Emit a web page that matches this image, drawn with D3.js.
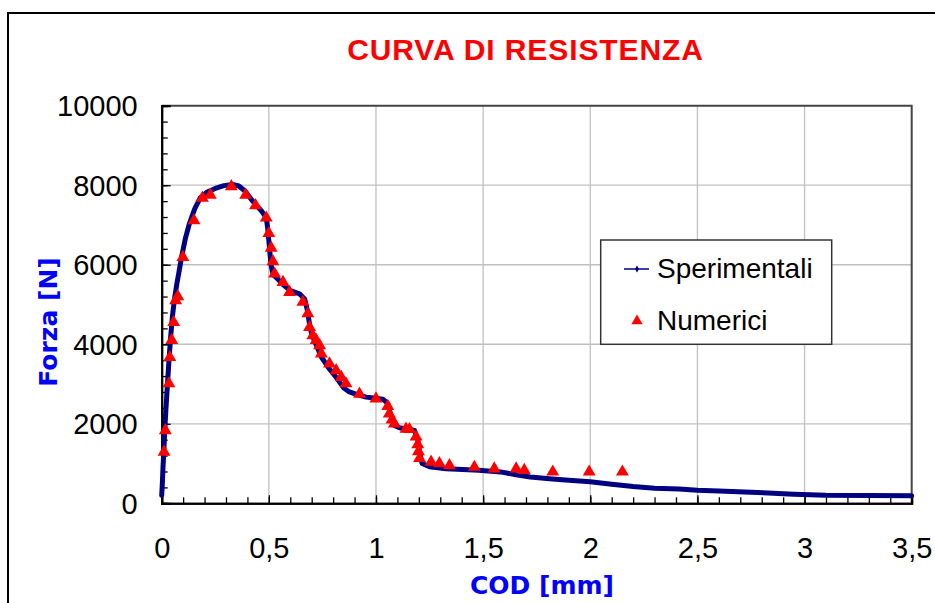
<!DOCTYPE html>
<html>
<head>
<meta charset="utf-8">
<script src="https://cdn.jsdelivr.net/npm/d3@7"></script>
<style>
  html, body { margin: 0; padding: 0; background: #ffffff; }
  svg { display: block; }
</style>
</head>
<body>
<svg id="chart" width="935" height="603"></svg>
<script>
// ---- Data ----
const title = "CURVA DI RESISTENZA";
const xTitle = "COD [mm]";
const yTitle = "Forza [N]";
const seriesNames = ["Sperimentali", "Numerici"];

// Experimental curve (COD mm, Force N)
const expCod = [0.0, 0.003, 0.006, 0.01, 0.014, 0.02, 0.027, 0.034, 0.042, 0.05, 0.06, 0.07, 0.08, 0.093, 0.11, 0.13, 0.155, 0.18, 0.21, 0.25, 0.29, 0.33, 0.36, 0.39, 0.41, 0.44, 0.465, 0.488, 0.495, 0.5, 0.505, 0.51, 0.52, 0.54, 0.566, 0.6, 0.643, 0.667, 0.68, 0.69, 0.70, 0.72, 0.745, 0.78, 0.814, 0.85, 0.876, 0.92, 0.954, 1.0, 1.032, 1.055, 1.07, 1.086, 1.11, 1.14, 1.18, 1.195, 1.205, 1.215, 1.25, 1.327, 1.48, 1.58, 1.654, 1.72, 1.81, 1.9, 2.0, 2.1, 2.2, 2.3, 2.415, 2.5, 2.6, 2.69, 2.83, 2.95, 3.1, 3.3, 3.5];
const expForce = [200, 500, 900, 1300, 1800, 2400, 3000, 3600, 4200, 4700, 5150, 5500, 5800, 6200, 6650, 7050, 7420, 7680, 7820, 7920, 7990, 8020, 7980, 7850, 7700, 7500, 7360, 7190, 6900, 6600, 6300, 6000, 5750, 5650, 5500, 5350, 5270, 5140, 4850, 4500, 4250, 4000, 3680, 3400, 3170, 2900, 2800, 2720, 2670, 2640, 2620, 2510, 2200, 1960, 1900, 1870, 1830, 1600, 1250, 1000, 920, 870, 830, 790, 720, 660, 620, 580, 540, 480, 420, 380, 360, 330, 310, 290, 260, 230, 200, 195, 190];

// Numerical results (COD mm, Force N)
const numCod = [0.011, 0.017, 0.034, 0.038, 0.047, 0.056, 0.065, 0.075, 0.099, 0.151, 0.19, 0.227, 0.325, 0.392, 0.438, 0.488, 0.5, 0.511, 0.519, 0.527, 0.566, 0.597, 0.659, 0.682, 0.69, 0.705, 0.721, 0.737, 0.745, 0.783, 0.814, 0.838, 0.86, 0.923, 1.0, 1.055, 1.062, 1.075, 1.086, 1.14, 1.156, 1.187, 1.195, 1.198, 1.203, 1.257, 1.296, 1.343, 1.459, 1.552, 1.654, 1.692, 1.825, 1.995, 2.15];
const numForce = [1290, 1830, 3010, 3670, 4100, 4550, 5100, 5200, 6190, 7110, 7680, 7755, 7970, 7755, 7490, 7180, 6790, 6420, 6080, 5770, 5560, 5310, 5060, 4770, 4430, 4220, 4100, 3970, 3760, 3510, 3340, 3170, 3010, 2750, 2630, 2440, 2250, 2100, 2000, 1870, 1860, 1670, 1480, 1300, 1130, 1040, 1000, 950, 910, 870, 870, 830, 790, 790, 790];

const xTicks = [0, 0.5, 1, 1.5, 2, 2.5, 3, 3.5];
const yTicks = [0, 2000, 4000, 6000, 8000, 10000];

// ---- Layout ----
const svg = d3.select("#chart");
const W = 935, H = 603;
const pL = 161.7, pR = 911.7, pT = 105.7, pB = 503.3;
const FONT = "'Liberation Sans', Arial, sans-serif";
const FONT2 = "'DejaVu Sans', Verdana, sans-serif";

const x = d3.scaleLinear().domain([0, 3.5]).range([pL, pR]);
const y = d3.scaleLinear().domain([0, 10000]).range([pB, pT]);

// background + outer border
svg.append("rect").attr("x", 0).attr("y", 0).attr("width", W).attr("height", H).attr("fill", "#ffffff");
svg.append("path")
  .attr("d", `M8,${H + 5} L8,13 L${W + 5},13`)
  .attr("fill", "none").attr("stroke", "#000").attr("stroke-width", 2);

// Title
svg.append("text").attr("x", 525.5).attr("y", 60).attr("text-anchor", "middle")
  .attr("font-family", FONT).attr("font-weight", "bold").attr("font-size", 30)
  .attr("letter-spacing", 0.9).attr("fill", "#ff0000").text(title);

// Grid
const grid = svg.append("g");
grid.selectAll("line.vx").data(xTicks.filter(d => d > 0 && d < 3.5)).join("line")
  .attr("x1", d => x(d)).attr("x2", d => x(d)).attr("y1", pT).attr("y2", pB)
  .attr("stroke", "#c0c0c0").attr("stroke-width", 1.3);
grid.selectAll("line.hy").data(yTicks.filter(d => d > 0 && d < 10000)).join("line")
  .attr("x1", pL).attr("x2", pR).attr("y1", d => y(d)).attr("y2", d => y(d))
  .attr("stroke", "#c0c0c0").attr("stroke-width", 1.3);

// Plot frame (top/right)
svg.append("path").attr("d", `M${pL},${pT} L${pR},${pT} L${pR},${pB}`)
  .attr("fill", "none").attr("stroke", "#444").attr("stroke-width", 2);

// Axes using d3 axis generators (ticks inside)
const fmt = d => String(d).replace(".", ",");
const xMinor = d3.range(0, 35.01, 1).map(d => d / 10);
const yMinor = d3.range(0, 10001, 400);

const xAxisMinor = svg.append("g").attr("transform", `translate(0,${pB})`)
  .call(d3.axisBottom(x).tickValues(xMinor).tickSize(-6).tickFormat(""));
const xAxisMajor = svg.append("g").attr("transform", `translate(0,${pB})`)
  .call(d3.axisBottom(x).tickValues(xTicks).tickSize(-8).tickPadding(30).tickFormat(fmt));
const yAxisMinor = svg.append("g").attr("transform", `translate(${pL},0)`)
  .call(d3.axisLeft(y).tickValues(yMinor).tickSize(-6).tickFormat(""));
const yAxisMajor = svg.append("g").attr("transform", `translate(${pL},0)`)
  .call(d3.axisLeft(y).tickValues(yTicks).tickSize(-9).tickPadding(25).tickFormat(d => String(d)));

[xAxisMinor, xAxisMajor, yAxisMinor, yAxisMajor].forEach(g => {
  g.selectAll(".domain").attr("stroke", "#000").attr("stroke-width", 2);
  g.selectAll(".tick line").attr("stroke", "#000").attr("stroke-width", 1.3);
  g.selectAll("text").attr("font-family", FONT).attr("font-size", 29).attr("fill", "#000");
});
xAxisMajor.selectAll("text").attr("dy", null).attr("y", 55);
yAxisMajor.selectAll("text").attr("x", -24).attr("dy", "0.35em");

// Axis titles
svg.append("text").attr("x", 542).attr("y", 594).attr("text-anchor", "middle")
  .attr("font-family", FONT2).attr("font-weight", "bold").attr("font-size", 25)
  .attr("fill", "#0000ff").text(xTitle);
svg.append("text").attr("transform", "translate(57,322) rotate(-90)").attr("text-anchor", "middle")
  .attr("font-family", FONT2).attr("font-weight", "bold").attr("font-size", 25)
  .attr("fill", "#0000ff").text(yTitle);

// Experimental line
const expData = expCod.map((c, i) => [c, expForce[i]]);
const line = d3.line().x(d => x(d[0])).y(d => y(d[1]));
svg.append("path").datum(expData).attr("d", line)
  .attr("fill", "none").attr("stroke", "#000080").attr("stroke-width", 5)
  .attr("stroke-linejoin", "round").attr("stroke-linecap", "round");

// Numerical triangles
const numData = numCod.map((c, i) => [c, numForce[i]]);
const tri = d3.symbol().type(d3.symbolTriangle).size(72);
svg.append("g").selectAll("path").data(numData).join("path")
  .attr("d", tri).attr("transform", d => `translate(${x(d[0])},${y(d[1])})`)
  .attr("fill", "#ff0000");

// Legend
const lg = svg.append("g");
lg.append("rect").attr("x", 600.7).attr("y", 240).attr("width", 231).attr("height", 104.3)
  .attr("fill", "#fff").attr("stroke", "#333").attr("stroke-width", 1.5);
lg.append("line").attr("x1", 624).attr("x2", 649).attr("y1", 269).attr("y2", 269)
  .attr("stroke", "#000080").attr("stroke-width", 1.5);
lg.append("path").attr("d", d3.symbol().type(d3.symbolDiamond).size(14)())
  .attr("transform", "translate(637,269)").attr("fill", "#000080");
lg.append("path").attr("d", d3.symbol().type(d3.symbolTriangle).size(55)())
  .attr("transform", "translate(637,321)").attr("fill", "#ff0000");
lg.append("text").attr("x", 657).attr("y", 278).attr("font-family", FONT).attr("font-size", 28)
  .attr("fill", "#000").text(seriesNames[0]);
lg.append("text").attr("x", 657).attr("y", 330).attr("font-family", FONT).attr("font-size", 28)
  .attr("fill", "#000").text(seriesNames[1]);
</script>
</body>
</html>
